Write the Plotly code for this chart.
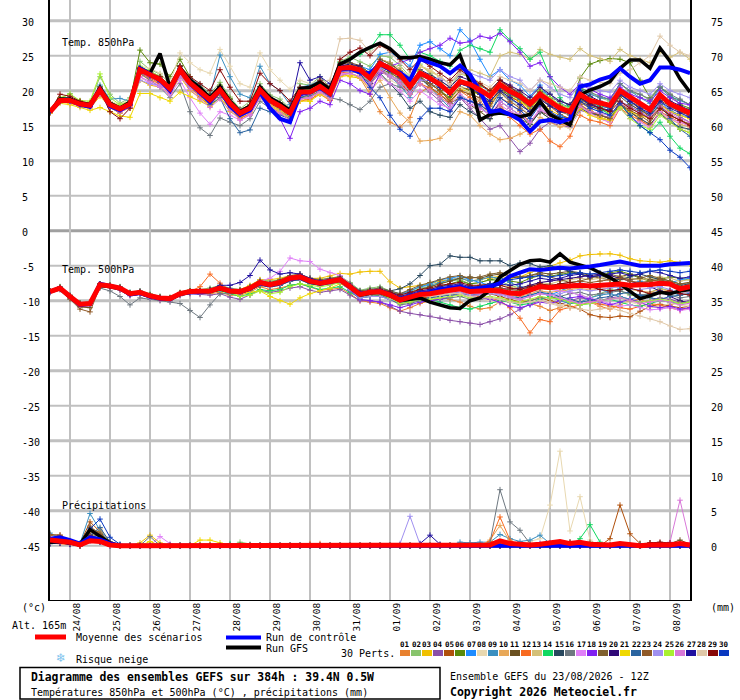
import plotly.graph_objects as go

# ─── axes / labels ────────────────────────────────────────────────────────────
HOURS = list(range(0, 385, 6))          # 23/08 12Z -> +384h, every 6h
DAY_TICKS = list(range(12, 373, 24))    # 00Z of each day
DAY_LABELS = ["24/08", "25/08", "26/08", "27/08", "28/08", "29/08", "30/08", "31/08",
              "01/09", "02/09", "03/09", "04/09", "05/09", "06/09", "07/09", "08/09"]
Y_TICKS = list(range(-45, 31, 5))
PRECIP_OFFSET = 45                      # right axis = left axis + 45

COLORS = ["#E8812F", "#88C46C", "#F0C000", "#8B50A8", "#B0500C", "#5A8A0A", "#1E8CFF",
          "#E8D8B0", "#3A8FC0", "#E8A858", "#6A5020", "#F86A20", "#D4C078", "#10D860",
          "#28485E", "#6E7880", "#E080F8", "#8020F0", "#80602E", "#300878", "#F0D800",
          "#2A64A0", "#905A28", "#A090F0", "#A8F030", "#D878D8", "#2010A0", "#E0C8A8",
          "#880808", "#0838C0"]

# ─── 850 hPa ──────────────────────────────────────────────────────────────────
MEAN_850 = [17.0, 18.6, 18.6, 18.1, 17.9, 20.1, 18.0, 17.4,
            18.1, 23.0, 22.3, 21.6, 20.3, 23.0, 21.1, 19.9,
            18.7, 20.1, 18.2, 16.8, 17.5, 20.1, 18.6, 17.8,
            16.8, 19.8, 19.8, 20.6, 19.6, 23.2, 23.3, 23.0,
            21.8, 23.9, 23.2, 22.3, 20.6, 22.5, 21.8, 20.9,
            19.7, 21.3, 20.9, 20.1, 19.2, 20.9, 19.9, 19.2,
            18.1, 19.5, 18.4, 17.5, 17.0, 19.5, 18.6, 18.2,
            17.9, 20.0, 19.0, 18.2, 17.3, 19.4, 18.1, 17.5,
            16.8]
CTRL_850 = [17.0, 18.5, 18.6, 18.0, 17.7, 20.2, 17.8, 17.2,
            18.0, 23.2, 22.4, 21.5, 20.0, 23.0, 21.0, 19.6,
            18.4, 20.0, 17.8, 16.5, 17.2, 19.8, 17.5, 16.0,
            15.5, 19.5, 19.8, 20.4, 19.5, 23.0, 23.2, 22.6,
            22.5, 23.8, 23.0, 22.6, 21.5, 24.5, 24.0, 23.5,
            22.5, 23.6, 22.3, 19.9, 17.0, 17.2, 16.6, 15.8,
            14.2, 15.6, 15.8, 15.5, 16.0, 20.6, 20.9, 21.6,
            22.0, 23.2, 22.0, 21.0, 21.5, 23.3, 23.3, 23.0,
            22.5]
GFS_850 = [17.0, 18.8, 18.8, 18.2, 18.0, 20.4, 18.2, 17.5,
           18.4, 23.2, 22.5, 25.3, 20.5, 23.2, 21.5, 20.4,
           19.0, 20.6, 18.5, 17.0, 17.8, 20.5, 19.0, 18.2,
           17.2, 20.3, 20.5, 21.2, 20.2, 23.8, 24.5, 25.5,
           26.2, 26.8, 26.0, 24.7, 24.7, 24.9, 24.5, 24.0,
           23.7, 25.1, 21.3, 15.8, 16.6, 16.8, 16.6, 16.3,
           16.6, 18.5, 16.6, 15.8, 15.1, 19.4, 20.1, 20.6,
           21.3, 23.2, 24.4, 24.4, 23.2, 26.1, 24.2, 21.7,
           19.8]

T850_01 = [17.1, 18.9, 18.4, 18.0, 17.6, 19.6, 17.8, 17.1, 18.4, 22.4, 21.5, 21.0, 19.8, 22.1, 20.6, 19.0,
           18.0, 19.6, 17.6, 16.0, 17.2, 19.3, 18.2, 17.3, 15.8, 18.9, 19.5, 19.8, 19.0, 22.0, 22.6, 21.8,
           19.5, 17.0, 15.5, 14.8, 16.2, 19.8, 20.5, 19.0, 18.2, 20.0, 19.5, 18.5, 17.0, 19.0, 18.2, 17.0,
           15.5, 17.0, 16.0, 15.2, 15.0, 18.3, 17.5, 16.0, 15.5, 18.2, 17.0, 15.8, 14.8, 17.0, 15.6, 14.5, 14.0]
T850_02 = [17.2, 18.8, 19.6, 18.4, 18.3, 22.0, 19.5, 18.2, 19.0, 24.2, 23.0, 22.4, 21.0, 23.5, 21.8, 20.8,
           19.6, 21.2, 19.1, 17.4, 18.5, 21.0, 19.4, 18.8, 17.5, 21.0, 20.8, 22.0, 20.5, 24.2, 24.8, 24.1,
           23.5, 25.0, 24.8, 23.6, 22.0, 23.8, 22.5, 21.4, 20.5, 22.4, 22.0, 20.9, 20.0, 21.5, 20.2, 19.8,
           18.5, 20.1, 19.0, 17.6, 17.9, 20.5, 19.8, 19.0, 18.5, 21.0, 19.8, 19.5, 18.6, 20.6, 19.0, 18.7, 18.0]
T850_03 = [16.9, 18.4, 18.2, 17.8, 17.5, 19.2, 17.7, 17.0, 17.5, 21.5, 20.8, 20.5, 19.5, 22.0, 20.0, 19.0,
           17.8, 19.0, 17.0, 16.2, 16.5, 19.0, 17.9, 17.2, 16.5, 19.0, 18.5, 20.0, 18.8, 22.5, 22.0, 21.8,
           20.5, 23.5, 23.0, 22.0, 20.0, 22.8, 22.2, 21.0, 19.2, 20.2, 19.8, 19.5, 18.0, 20.0, 19.0, 18.5,
           17.4, 18.6, 17.2, 16.5, 16.0, 17.8, 16.8, 16.2, 15.8, 18.5, 17.5, 16.8, 16.2, 18.0, 17.2, 16.5, 16.0]
T850_04 = [17.0, 18.7, 18.9, 18.3, 18.0, 20.4, 18.2, 17.6, 18.3, 23.4, 22.6, 21.8, 20.5, 23.1, 21.4, 20.3,
           19.2, 20.5, 18.7, 17.3, 17.9, 20.5, 19.0, 18.1, 17.0, 20.2, 20.5, 21.0, 20.2, 23.8, 23.6, 23.2,
           22.0, 24.0, 22.5, 21.0, 19.5, 21.0, 19.8, 18.5, 17.2, 19.0, 17.5, 16.0, 14.5, 15.0, 13.2, 11.3,
           12.5, 14.5, 15.5, 15.0, 14.8, 17.2, 16.8, 16.5, 16.2, 18.5, 17.8, 17.0, 16.0, 18.2, 17.0, 16.2, 15.5]
T850_05 = [16.8, 18.4, 18.5, 17.9, 17.8, 19.8, 17.6, 16.8, 18.0, 22.8, 22.0, 21.2, 20.0, 22.5, 20.8, 19.5,
           18.5, 19.9, 17.9, 16.5, 17.0, 19.5, 18.1, 17.5, 16.2, 19.5, 19.4, 20.4, 19.8, 23.0, 23.5, 22.5,
           21.0, 22.8, 22.0, 21.0, 19.8, 21.5, 21.0, 20.0, 18.8, 20.5, 20.2, 19.5, 18.2, 20.4, 19.2, 18.4,
           17.0, 18.8, 17.8, 16.6, 16.0, 18.8, 18.0, 17.6, 17.0, 19.5, 18.5, 17.4, 16.2, 18.0, 16.5, 15.8, 15.2]
T850_06 = [17.1, 18.9, 18.8, 18.5, 18.2, 20.6, 18.4, 17.9, 18.4, 25.8, 24.0, 23.8, 22.0, 24.5, 22.0, 20.5,
           19.0, 20.8, 18.9, 17.2, 17.8, 20.4, 18.8, 18.0, 17.2, 20.0, 20.0, 20.8, 20.0, 23.4, 23.8, 23.2,
           21.5, 23.2, 22.5, 21.8, 20.2, 22.0, 21.0, 20.0, 19.0, 20.5, 20.0, 19.5, 18.5, 20.0, 19.4, 18.8,
           17.5, 19.8, 18.2, 17.5, 17.0, 21.8, 23.8, 24.3, 24.6, 24.5, 24.0, 21.5, 19.0, 20.5, 19.5, 18.0, 17.5]
T850_07 = [16.9, 18.5, 18.5, 18.0, 17.7, 20.0, 17.9, 17.3, 18.0, 22.8, 22.0, 21.4, 20.1, 22.8, 20.9, 19.6,
           18.5, 20.0, 18.0, 16.5, 17.2, 19.9, 18.4, 17.6, 16.6, 19.4, 19.6, 20.4, 19.4, 23.0, 23.4, 23.5,
           23.0, 25.2, 25.5, 24.6, 23.5, 26.5, 27.0, 26.0, 25.0, 28.7, 27.2, 24.5, 22.0, 23.0, 21.5, 20.8,
           19.2, 20.8, 18.8, 16.5, 15.8, 19.2, 17.5, 17.8, 17.5, 19.5, 18.2, 17.0, 16.0, 18.5, 17.2, 16.5, 16.2]
T850_08 = [17.0, 18.7, 18.8, 18.3, 18.2, 20.5, 18.5, 18.0, 18.8, 23.5, 23.2, 22.5, 21.0, 25.4, 24.0, 23.0,
           22.5, 25.9, 23.5, 21.0, 20.5, 25.4, 23.0, 21.5, 20.2, 21.5, 21.0, 21.5, 20.5, 23.0, 22.5, 22.0,
           20.5, 22.0, 21.5, 20.8, 19.5, 21.0, 20.2, 19.2, 18.5, 20.5, 19.8, 18.8, 17.5, 19.5, 18.5, 17.8,
           16.5, 17.8, 16.2, 15.0, 14.6, 17.5, 16.5, 16.0, 15.5, 17.5, 16.5, 15.6, 14.8, 16.8, 15.5, 14.8, 14.2]
T850_09 = [17.0, 18.6, 18.5, 18.0, 17.8, 20.8, 18.8, 18.9, 18.5, 23.2, 22.5, 21.8, 20.6, 23.4, 21.8, 20.8,
           19.2, 25.1, 22.0, 19.5, 19.0, 23.5, 21.0, 20.0, 18.0, 20.5, 20.8, 21.5, 20.2, 23.5, 23.0, 22.5,
           21.0, 23.0, 22.0, 20.8, 19.0, 21.8, 20.5, 19.0, 17.5, 19.2, 18.5, 17.8, 16.5, 19.8, 18.8, 18.0,
           17.0, 20.0, 19.5, 18.2, 17.6, 20.2, 19.5, 19.0, 18.8, 21.0, 20.0, 19.0, 18.2, 20.5, 19.2, 18.6, 18.0]
T850_10 = [17.0, 18.5, 18.4, 17.9, 17.7, 19.8, 17.8, 17.2, 17.9, 22.6, 21.9, 21.2, 19.9, 22.6, 20.6, 19.4,
           18.2, 19.6, 17.8, 16.4, 17.0, 19.5, 18.0, 17.2, 16.2, 19.2, 19.0, 20.0, 19.2, 22.6, 22.5, 22.0,
           20.0, 21.5, 19.0, 16.8, 15.5, 12.8, 12.9, 13.2, 14.5, 17.0, 16.5, 15.0, 13.8, 13.0, 13.2, 13.8,
           14.5, 16.2, 15.5, 14.8, 15.2, 18.0, 17.2, 16.5, 16.0, 18.0, 17.0, 16.2, 15.0, 17.2, 16.0, 15.2, 14.8]
T850_11 = [17.1, 18.8, 18.9, 18.4, 18.1, 20.5, 18.3, 17.7, 18.5, 23.3, 22.8, 22.0, 20.8, 23.6, 21.7, 20.5,
           19.3, 20.6, 18.7, 17.3, 18.0, 20.6, 19.1, 18.3, 17.3, 20.4, 20.4, 21.2, 20.1, 23.8, 24.0, 23.6,
           22.5, 24.5, 24.0, 22.8, 21.0, 22.0, 20.5, 19.5, 18.2, 19.0, 18.0, 17.0, 16.0, 17.5, 16.8, 16.0,
           15.2, 17.0, 16.5, 16.0, 15.8, 18.5, 17.8, 17.2, 17.0, 19.2, 18.0, 17.2, 16.5, 18.6, 17.8, 17.0, 16.5]
T850_12 = [16.9, 18.4, 18.3, 17.8, 17.6, 19.7, 17.6, 17.0, 17.7, 22.5, 21.8, 21.0, 19.8, 22.4, 20.5, 19.2,
           18.0, 19.5, 17.5, 16.0, 16.8, 19.2, 17.5, 16.8, 15.8, 18.5, 18.8, 19.5, 18.6, 22.5, 22.8, 22.4,
           21.2, 23.0, 22.2, 21.5, 19.5, 21.0, 20.4, 19.5, 18.5, 20.0, 19.0, 18.0, 16.8, 18.0, 16.2, 15.0,
           13.8, 14.5, 12.8, 12.0, 13.5, 16.5, 15.8, 15.5, 15.0, 17.5, 16.5, 15.8, 15.0, 17.0, 16.2, 15.5, 15.0]
T850_13 = [17.0, 18.6, 18.7, 18.2, 18.0, 20.2, 18.2, 17.6, 18.3, 23.2, 22.5, 21.8, 20.5, 23.2, 21.4, 20.2,
           19.0, 20.4, 18.5, 17.0, 17.7, 20.3, 18.8, 18.0, 17.0, 20.0, 20.0, 20.8, 19.8, 23.4, 23.5, 23.4,
           22.4, 24.5, 24.0, 23.2, 21.8, 23.5, 22.8, 22.0, 21.0, 22.8, 23.0, 22.5, 22.0, 25.0, 25.5, 25.2,
           24.5, 25.9, 25.2, 24.8, 24.5, 26.0, 25.0, 24.6, 24.2, 25.9, 25.0, 24.5, 24.0, 25.5, 24.8, 25.5, 24.5]
T850_14 = [17.1, 18.8, 18.6, 18.2, 18.0, 20.3, 18.1, 17.5, 18.2, 23.0, 22.4, 21.6, 20.4, 23.2, 21.2, 20.0,
           18.8, 20.3, 18.3, 16.9, 17.6, 20.2, 18.7, 17.9, 16.9, 20.0, 20.2, 21.4, 20.4, 24.0, 24.5, 25.2,
           26.0, 28.0, 28.0, 26.5, 24.5, 25.5, 25.0, 24.2, 23.5, 25.8, 26.5, 26.0, 25.5, 28.7, 27.2, 26.0,
           24.5, 25.5, 22.0, 19.0, 17.5, 20.5, 19.0, 17.5, 16.5, 18.0, 16.5, 15.0, 14.0, 15.5, 13.5, 11.8, 11.0]
T850_15 = [17.0, 18.6, 18.6, 18.1, 17.9, 20.0, 18.0, 17.4, 18.1, 22.8, 22.2, 21.4, 20.2, 22.9, 21.0, 19.8,
           18.6, 20.0, 18.1, 16.7, 17.4, 20.0, 18.5, 17.7, 16.7, 19.7, 19.6, 20.3, 19.3, 22.8, 23.0, 22.6,
           21.0, 22.5, 21.0, 19.5, 17.5, 18.5, 17.0, 16.5, 16.2, 18.0, 17.0, 16.2, 16.0, 18.5, 17.5, 16.5,
           15.2, 17.0, 16.0, 15.5, 15.2, 17.5, 16.8, 16.5, 16.0, 18.0, 17.0, 16.0, 15.2, 16.8, 15.5, 14.8, 14.5]
T850_16 = [16.9, 18.5, 18.4, 18.0, 17.8, 19.9, 17.8, 17.2, 18.0, 22.5, 21.5, 20.5, 19.0, 21.0, 17.0, 14.7,
           13.6, 16.1, 15.5, 15.0, 16.0, 18.5, 17.5, 17.0, 16.2, 19.0, 19.2, 20.0, 19.0, 18.7, 18.0, 17.3,
           18.5, 20.5, 21.0, 20.5, 19.8, 21.5, 21.0, 20.4, 19.5, 21.0, 20.5, 19.8, 19.2, 21.5, 20.5, 19.8,
           18.5, 20.0, 19.0, 18.5, 18.0, 20.4, 19.8, 19.2, 18.8, 21.0, 20.0, 19.5, 18.8, 20.5, 19.5, 18.8, 18.0]
T850_17 = [17.0, 18.5, 18.4, 17.9, 17.8, 19.6, 17.7, 17.0, 17.6, 22.0, 21.0, 20.5, 19.4, 21.5, 19.0, 16.8,
           15.2, 17.0, 16.5, 15.8, 16.5, 19.0, 17.8, 17.0, 16.0, 18.8, 19.0, 19.8, 19.0, 22.5, 22.4, 22.0,
           20.5, 22.0, 21.0, 20.0, 18.5, 20.0, 19.0, 18.0, 17.5, 19.0, 18.0, 17.5, 16.5, 18.5, 17.5, 16.5,
           15.5, 17.5, 16.5, 15.8, 15.5, 17.8, 16.8, 16.0, 15.5, 17.5, 16.0, 15.5, 14.8, 17.0, 16.0, 15.5, 15.0]
T850_18 = [17.0, 18.4, 18.5, 18.0, 17.7, 19.8, 17.8, 17.2, 17.9, 22.6, 22.0, 21.2, 20.0, 22.6, 20.8, 19.6,
           18.4, 19.8, 18.0, 16.6, 17.3, 19.5, 17.5, 16.0, 13.2, 17.0, 17.5, 18.5, 18.0, 21.5, 21.0, 20.0,
           19.5, 22.5, 23.5, 24.0, 24.5, 25.5, 26.0, 26.5, 27.5, 26.8, 27.0, 27.8, 27.5, 28.2, 27.0, 25.5,
           23.5, 24.0, 22.0, 20.5, 19.5, 21.0, 20.2, 19.5, 19.0, 20.5, 19.5, 19.0, 18.5, 20.0, 19.0, 18.2, 18.0]
T850_19 = [17.1, 18.7, 18.7, 18.2, 18.0, 20.2, 18.1, 17.5, 18.2, 23.2, 22.5, 21.8, 20.4, 23.2, 21.3, 20.1,
           18.9, 20.3, 18.4, 17.0, 17.6, 20.2, 18.7, 17.9, 16.9, 20.0, 20.0, 20.8, 19.8, 23.4, 23.6, 23.5,
           22.5, 24.5, 23.8, 22.8, 21.0, 22.8, 22.0, 21.2, 20.0, 21.5, 21.0, 20.2, 19.0, 20.5, 19.5, 18.8,
           17.5, 19.0, 18.0, 17.0, 16.5, 18.8, 18.0, 17.5, 17.2, 19.5, 18.5, 17.8, 17.0, 19.0, 17.8, 17.0, 16.5]
T850_20 = [17.0, 18.6, 18.7, 18.2, 17.9, 20.3, 18.2, 17.6, 18.3, 23.2, 22.5, 21.7, 20.5, 23.4, 21.5, 20.3,
           19.2, 20.6, 18.6, 17.2, 17.8, 20.5, 19.0, 18.2, 17.2, 20.2, 20.4, 21.0, 20.0, 23.5, 23.8, 23.5,
           22.0, 24.2, 23.5, 22.5, 21.0, 23.0, 22.2, 21.5, 20.5, 22.0, 21.5, 20.8, 20.0, 21.5, 20.8, 20.0,
           19.0, 20.5, 19.5, 18.5, 18.0, 20.0, 19.2, 18.5, 18.0, 19.8, 19.0, 18.2, 17.5, 19.2, 18.5, 17.8, 17.2]
T850_21 = [16.8, 18.2, 18.0, 17.6, 17.2, 17.6, 17.0, 16.4, 16.2, 19.6, 19.6, 19.0, 18.5, 19.8, 19.2, 18.5,
           17.8, 19.0, 17.5, 16.5, 17.0, 19.2, 17.8, 17.0, 16.0, 18.5, 18.5, 19.5, 18.8, 22.0, 22.2, 22.0,
           21.5, 23.5, 23.0, 22.5, 21.5, 23.5, 23.0, 22.0, 21.0, 22.5, 22.0, 21.0, 20.0, 21.0, 19.5, 18.5,
           17.5, 18.8, 17.0, 16.0, 15.5, 17.5, 16.5, 16.0, 15.8, 17.8, 17.0, 16.5, 16.0, 18.0, 17.0, 16.5, 16.0]
T850_22 = [17.0, 18.5, 18.5, 18.0, 17.8, 20.0, 17.9, 17.3, 18.0, 22.8, 22.2, 21.3, 20.0, 22.8, 20.8, 19.5,
           18.0, 19.0, 16.0, 14.0, 14.4, 17.5, 17.0, 16.5, 16.0, 19.0, 19.5, 20.2, 19.2, 22.8, 22.8, 22.5,
           21.5, 23.5, 22.8, 22.0, 20.5, 22.2, 21.5, 20.5, 19.5, 21.0, 20.6, 20.0, 19.0, 20.5, 19.5, 18.8,
           17.8, 19.2, 18.2, 17.2, 16.8, 19.0, 18.2, 17.8, 17.5, 19.6, 18.5, 17.5, 16.5, 18.0, 16.0, 14.5, 13.5]
T850_23 = [17.0, 18.7, 18.8, 18.3, 18.1, 20.3, 18.2, 17.6, 18.2, 23.0, 22.3, 21.6, 20.3, 23.0, 21.2, 20.0,
           18.8, 20.2, 18.3, 16.9, 17.6, 20.2, 18.7, 17.9, 16.9, 19.9, 19.9, 20.7, 19.7, 23.2, 23.3, 23.1,
           21.8, 23.5, 22.8, 21.5, 20.0, 22.0, 21.0, 20.0, 18.5, 20.0, 19.5, 19.0, 17.8, 19.8, 18.5, 17.5,
           16.5, 18.0, 16.8, 16.0, 15.5, 18.0, 17.0, 16.5, 16.0, 18.2, 17.2, 16.5, 15.5, 17.5, 16.5, 15.8, 15.2]
T850_24 = [17.0, 18.6, 18.6, 18.1, 17.9, 20.0, 18.0, 17.4, 18.1, 21.5, 21.0, 20.8, 20.0, 22.0, 20.5, 19.5,
           18.5, 19.8, 18.0, 16.8, 17.4, 19.8, 18.4, 17.6, 16.6, 19.5, 19.5, 20.2, 19.3, 22.8, 22.8, 22.5,
           21.2, 23.2, 22.2, 21.5, 19.8, 21.5, 21.5, 21.8, 21.0, 22.5, 22.5, 22.0, 21.5, 23.0, 22.0, 21.5,
           20.0, 21.5, 20.5, 19.5, 19.0, 21.0, 20.5, 20.0, 19.8, 21.5, 20.5, 20.0, 19.5, 21.0, 20.0, 19.5, 19.0]
T850_25 = [17.2, 19.0, 19.5, 18.6, 18.5, 22.4, 19.0, 18.0, 18.5, 23.5, 22.8, 22.0, 20.5, 23.2, 21.0, 19.8,
           18.5, 20.0, 18.0, 16.6, 17.5, 20.0, 18.5, 17.5, 16.5, 19.6, 19.8, 20.5, 19.5, 23.2, 23.5, 23.0,
           22.0, 24.0, 23.5, 22.5, 21.0, 22.8, 22.0, 21.0, 20.0, 21.5, 21.0, 20.5, 19.5, 21.0, 20.0, 19.5,
           18.5, 20.0, 19.0, 18.0, 17.5, 19.5, 18.8, 18.0, 16.5, 17.5, 16.0, 15.0, 14.5, 16.5, 15.5, 14.5, 14.0]
T850_26 = [16.9, 18.4, 18.3, 17.8, 17.6, 19.5, 17.6, 17.0, 17.6, 22.0, 21.3, 20.8, 19.6, 22.2, 20.2, 18.8,
           17.6, 18.8, 17.2, 15.8, 16.6, 19.2, 17.6, 16.8, 15.8, 18.8, 19.0, 19.8, 18.8, 22.2, 22.5, 22.0,
           20.8, 22.8, 22.0, 21.0, 19.5, 21.0, 20.0, 19.0, 18.0, 19.5, 18.5, 17.5, 16.5, 18.0, 17.0, 16.5,
           15.5, 17.2, 16.5, 15.8, 15.5, 17.8, 17.0, 16.8, 16.5, 18.2, 17.5, 16.8, 16.2, 17.8, 16.8, 16.0, 15.5]
T850_27 = [17.0, 18.7, 18.7, 18.2, 18.0, 20.3, 18.2, 17.5, 18.2, 23.2, 22.5, 21.8, 20.5, 23.2, 21.4, 20.2,
           19.0, 20.4, 18.5, 17.0, 17.7, 20.3, 18.8, 18.0, 17.5, 24.0, 21.5, 22.0, 21.0, 23.5, 23.2, 23.0,
           22.0, 24.0, 23.0, 22.0, 20.5, 22.5, 21.5, 20.5, 19.5, 21.0, 20.5, 19.5, 18.5, 20.0, 19.0, 18.0,
           17.0, 18.8, 17.8, 17.0, 16.8, 19.0, 18.0, 17.5, 17.2, 19.5, 18.5, 17.5, 16.8, 18.5, 17.5, 16.8, 16.2]
T850_28 = [17.0, 18.6, 18.7, 18.2, 18.0, 20.2, 18.1, 17.5, 18.2, 23.0, 22.5, 21.8, 20.5, 23.3, 21.4, 20.3,
           19.0, 20.4, 18.6, 17.2, 17.8, 20.4, 18.9, 18.2, 17.2, 20.2, 20.4, 21.2, 21.5, 27.4, 27.5, 27.2,
           25.5, 26.5, 25.5, 24.0, 22.5, 23.5, 23.0, 22.0, 21.0, 22.5, 22.0, 21.2, 20.5, 22.0, 21.5, 21.0,
           20.0, 21.5, 21.0, 20.5, 20.0, 22.0, 21.5, 21.2, 21.0, 22.5, 23.0, 24.0, 25.0, 27.8, 26.5, 25.5, 25.0]
T850_29 = [17.0, 19.5, 19.2, 18.5, 18.2, 20.0, 17.0, 16.0, 17.5, 23.0, 22.5, 22.0, 20.5, 23.5, 22.0, 21.0,
           20.0, 23.0, 20.5, 18.5, 18.5, 22.5, 21.0, 20.0, 18.5, 20.5, 20.5, 21.5, 20.5, 24.5, 25.5, 26.1,
           25.0, 26.5, 25.8, 24.5, 23.0, 24.5, 23.5, 22.5, 21.5, 23.0, 22.0, 21.0, 20.0, 21.5, 20.5, 19.5,
           18.5, 19.8, 18.5, 17.8, 17.0, 19.0, 18.2, 17.5, 17.0, 18.5, 17.5, 16.8, 16.0, 17.5, 16.5, 15.8, 15.0]
T850_30 = [17.0, 18.6, 18.5, 18.0, 17.8, 20.0, 17.9, 17.3, 18.0, 22.9, 22.2, 21.5, 20.2, 22.9, 21.0, 19.8,
           18.6, 20.0, 18.0, 16.6, 17.3, 20.0, 18.5, 17.6, 16.6, 19.6, 19.6, 20.4, 19.4, 23.0, 23.0, 22.5,
           20.5, 19.0, 16.5, 14.5, 13.5, 16.0, 17.5, 17.5, 17.0, 19.0, 18.5, 18.0, 17.0, 19.0, 18.0, 17.2,
           16.0, 18.0, 17.0, 16.2, 16.0, 18.5, 17.5, 17.0, 16.5, 18.2, 16.5, 15.0, 14.0, 13.0, 11.5, 10.5, 9.0]

# ─── 500 hPa ──────────────────────────────────────────────────────────────────
MEAN_500 = [-8.7, -8.2, -9.4, -10.5, -10.4, -7.7, -7.9, -8.2,
            -9.0, -8.8, -9.3, -9.6, -9.7, -9.0, -8.7, -8.7,
            -8.6, -8.2, -8.6, -8.7, -8.2, -7.4, -7.7, -7.4,
            -6.8, -6.6, -7.2, -7.5, -7.3, -7.0, -8.0, -9.1,
            -8.8, -8.7, -9.2, -9.9, -9.5, -9.1, -9.0, -8.7,
            -8.5, -8.3, -8.7, -8.6, -8.5, -8.6, -8.9, -9.0,
            -8.5, -8.0, -8.1, -8.0, -7.9, -7.8, -7.9, -7.8,
            -7.7, -7.6, -7.8, -7.8, -7.7, -7.5, -7.6, -8.3,
            -8.0]
CTRL_500 = [-8.7, -8.2, -9.4, -10.6, -10.5, -7.6, -7.9, -8.2,
            -9.1, -8.9, -9.4, -9.7, -9.8, -9.0, -8.8, -8.8,
            -8.6, -8.2, -8.5, -8.8, -8.2, -7.5, -7.8, -7.5,
            -6.9, -6.7, -7.2, -7.4, -7.2, -7.0, -8.0, -9.0,
            -8.8, -8.6, -9.2, -9.8, -9.4, -9.0, -8.8, -8.4,
            -8.2, -8.0, -8.4, -8.2, -8.0, -7.5, -6.5, -6.0,
            -5.5, -5.6, -5.5, -5.3, -5.4, -5.3, -5.1, -4.9,
            -4.6, -4.4, -4.7, -5.0, -5.0, -5.0, -4.8, -4.7,
            -4.6]
GFS_500 = [-8.7, -8.3, -9.5, -10.6, -10.4, -7.8, -8.0, -8.3,
           -9.1, -8.9, -9.4, -9.7, -9.8, -9.1, -8.8, -8.8,
           -8.7, -8.3, -8.7, -8.8, -8.3, -7.5, -7.8, -7.5,
           -6.9, -6.7, -7.3, -7.6, -7.4, -7.1, -8.1, -9.2,
           -8.9, -8.8, -9.3, -10.0, -9.8, -9.6, -10.2, -10.6,
           -11.0, -11.1, -10.0, -9.6, -8.5, -6.6, -5.7, -4.8,
           -4.3, -4.2, -4.5, -3.3, -4.5, -4.9, -5.3, -6.0,
           -6.7, -7.6, -8.6, -9.7, -9.3, -8.8, -9.0, -8.6,
           -8.4]

T500_01 = [-8.6, -8.0, -9.2, -10.3, -10.2, -7.8, -8.0, -8.4, -9.2, -9.0, -9.5, -9.8, -9.8, -9.2, -8.9, -9.0,
           -9.0, -8.8, -9.2, -9.2, -8.8, -8.0, -8.4, -8.2, -7.8, -7.6, -8.0, -8.5, -8.4, -8.2, -9.0, -10.0,
           -10.2, -10.4, -11.0, -11.5, -11.0, -10.4, -10.0, -9.5, -9.8, -10.2, -10.8, -11.2, -11.0, -10.2, -9.6, -9.8,
           -10.4, -10.8, -11.4, -11.0, -10.4, -10.0, -10.2, -10.8, -11.2, -10.6, -10.0, -9.8, -10.4, -11.0, -10.6, -10.2, -10.4]
T500_02 = [-8.8, -8.3, -9.5, -10.6, -10.5, -7.6, -7.8, -8.0, -8.8, -8.6, -9.0, -9.4, -9.5, -8.8, -8.4, -8.4,
           -8.2, -7.8, -8.2, -8.4, -7.9, -7.0, -7.2, -7.0, -6.5, -6.2, -6.8, -7.0, -6.8, -6.5, -7.4, -8.5,
           -8.2, -8.0, -8.6, -9.2, -8.8, -8.2, -8.0, -7.5, -7.2, -7.0, -7.6, -7.4, -7.0, -7.2, -7.8, -8.2,
           -8.0, -7.6, -7.8, -8.2, -8.8, -9.2, -9.6, -9.0, -8.4, -8.6, -9.2, -9.4, -8.8, -8.2, -8.6, -9.2, -8.8]
T500_03 = [-8.7, -8.2, -9.3, -10.4, -10.3, -7.8, -8.0, -8.3, -9.0, -8.8, -9.2, -9.5, -9.6, -8.9, -8.6, -8.6,
           -8.5, -8.0, -8.4, -8.4, -7.8, -7.0, -7.0, -6.8, -6.4, -6.5, -6.8, -6.8, -6.5, -6.1, -6.2, -5.9,
           -5.8, -5.8, -7.3, -8.2, -8.0, -7.8, -7.6, -7.2, -7.0, -6.8, -7.2, -7.0, -6.8, -6.5, -6.8, -6.6,
           -6.0, -5.5, -5.0, -4.6, -4.2, -3.6, -3.4, -3.3, -3.3, -3.5, -4.0, -4.3, -4.4, -4.5, -4.3, -4.6, -4.8]
T500_04 = [-8.7, -8.3, -9.5, -10.6, -10.5, -7.9, -8.1, -8.5, -9.3, -9.1, -9.6, -9.9, -10.0, -9.3, -9.0, -9.1,
           -9.2, -9.0, -9.5, -9.8, -9.2, -8.5, -8.8, -8.6, -8.2, -8.0, -8.5, -8.8, -8.6, -8.4, -9.2, -10.0,
           -10.0, -10.2, -10.8, -11.5, -11.8, -12.0, -12.2, -12.5, -12.8, -13.0, -13.2, -13.4, -13.0, -12.6, -12.0, -11.2,
           -10.5, -10.0, -10.2, -10.6, -10.0, -9.6, -9.8, -10.0, -9.6, -9.4, -9.8, -10.2, -10.0, -9.6, -9.8, -10.2, -10.0]
T500_05 = [-8.8, -8.3, -9.6, -10.8, -10.7, -7.8, -8.0, -8.3, -9.1, -8.9, -9.4, -9.7, -9.8, -9.1, -8.8, -8.8,
           -8.8, -8.5, -8.8, -9.0, -8.5, -7.8, -8.0, -7.8, -7.2, -7.0, -7.5, -7.8, -7.6, -7.4, -8.2, -9.4,
           -9.2, -9.0, -9.5, -10.2, -10.0, -9.6, -9.5, -9.2, -9.0, -8.8, -9.2, -9.2, -9.0, -9.4, -9.8, -10.2,
           -10.0, -9.6, -10.0, -10.4, -10.8, -11.2, -12.0, -12.3, -12.4, -12.2, -12.3, -11.5, -10.8, -10.5, -10.8, -11.0, -10.8]
T500_06 = [-8.6, -8.1, -9.3, -10.4, -10.3, -7.6, -7.8, -8.1, -8.9, -8.7, -9.2, -9.5, -9.6, -8.9, -8.6, -8.5,
           -8.4, -8.0, -8.4, -8.5, -8.0, -7.2, -7.5, -7.2, -6.6, -6.4, -7.0, -7.3, -7.1, -6.8, -7.8, -8.9,
           -8.6, -8.4, -8.8, -9.4, -9.0, -8.6, -8.4, -8.0, -7.6, -7.2, -7.6, -7.4, -7.0, -6.8, -7.2, -7.4,
           -6.8, -6.4, -6.5, -6.2, -6.0, -6.2, -6.6, -6.4, -6.0, -5.8, -6.2, -6.8, -7.2, -7.0, -6.6, -6.8, -7.0]
T500_07 = [-8.7, -8.2, -9.4, -10.5, -10.4, -7.7, -7.9, -8.2, -9.0, -8.8, -9.3, -9.6, -9.7, -9.0, -8.7, -8.7,
           -8.6, -8.1, -8.5, -8.6, -8.1, -7.3, -7.6, -7.3, -6.7, -6.5, -7.1, -7.4, -7.2, -6.9, -7.9, -9.0,
           -8.6, -8.4, -8.8, -9.2, -8.6, -8.0, -7.6, -7.0, -6.8, -6.5, -7.0, -7.4, -7.8, -8.4, -9.0, -9.6,
           -9.2, -8.8, -9.2, -8.6, -8.0, -7.5, -7.8, -8.4, -8.8, -8.2, -7.6, -7.2, -7.6, -8.0, -7.5, -7.0, -6.8]
T500_08 = [-8.7, -8.3, -9.4, -10.5, -10.3, -7.6, -7.8, -8.1, -8.9, -8.6, -9.1, -9.4, -9.5, -8.8, -8.5, -8.5,
           -8.4, -8.0, -8.5, -8.6, -8.0, -7.2, -7.5, -7.2, -6.6, -6.4, -7.0, -7.4, -7.2, -7.0, -8.2, -9.4,
           -9.0, -9.2, -9.8, -10.4, -10.2, -9.8, -9.6, -9.4, -9.2, -9.0, -9.6, -9.8, -10.0, -10.4, -10.8, -10.6,
           -10.2, -9.8, -10.2, -10.6, -10.4, -10.0, -10.2, -10.6, -10.8, -10.4, -10.2, -10.6, -11.0, -10.8, -10.4, -10.6, -10.8]
T500_09 = [-8.6, -8.0, -9.2, -10.3, -10.2, -7.6, -7.8, -8.0, -8.8, -8.6, -9.1, -9.4, -9.6, -8.9, -8.6, -8.6,
           -8.5, -8.1, -8.4, -8.5, -8.0, -7.2, -7.5, -7.2, -6.6, -6.4, -7.0, -7.2, -7.0, -6.6, -7.6, -8.6,
           -8.4, -8.2, -8.6, -9.0, -8.6, -8.0, -7.8, -7.4, -7.0, -6.8, -7.2, -7.0, -6.6, -6.8, -7.4, -8.0,
           -8.4, -8.8, -9.4, -10.0, -10.4, -10.2, -9.6, -9.2, -9.0, -9.4, -9.8, -9.4, -9.0, -8.6, -8.8, -9.2, -9.0]
T500_10 = [-8.8, -8.3, -9.5, -10.6, -10.5, -7.8, -8.0, -8.3, -9.1, -8.9, -9.4, -9.7, -9.8, -9.1, -8.8, -8.8,
           -8.7, -8.3, -8.7, -8.8, -8.3, -7.5, -7.8, -7.5, -6.9, -6.7, -7.3, -7.6, -7.4, -7.1, -8.1, -9.2,
           -9.0, -9.2, -9.6, -10.2, -9.8, -9.4, -9.2, -8.8, -8.6, -8.4, -8.8, -8.8, -8.6, -8.8, -9.2, -9.4,
           -9.0, -8.6, -8.8, -8.6, -8.4, -8.2, -8.5, -8.4, -8.2, -8.0, -8.4, -8.6, -8.8, -8.4, -8.6, -9.0, -8.8]
T500_11 = [-8.7, -8.3, -9.6, -10.9, -11.0, -8.0, -8.1, -8.4, -9.2, -9.0, -9.5, -9.8, -9.9, -9.2, -8.9, -8.9,
           -8.8, -8.4, -8.8, -8.9, -8.4, -7.6, -7.9, -7.6, -7.0, -6.8, -7.4, -7.7, -7.5, -7.2, -8.2, -9.3,
           -9.0, -8.8, -9.2, -9.6, -9.0, -8.4, -8.0, -7.6, -7.2, -6.8, -6.6, -6.8, -6.4, -6.2, -6.6, -6.8,
           -6.4, -6.0, -6.2, -6.0, -5.8, -6.0, -6.4, -6.8, -7.0, -6.6, -6.2, -6.6, -7.0, -6.8, -7.2, -7.6, -7.4]
T500_12 = [-8.8, -8.2, -9.4, -10.5, -10.4, -7.7, -7.9, -8.2, -9.0, -8.8, -9.3, -9.6, -9.7, -9.0, -8.7, -8.0,
           -6.2, -7.5, -8.5, -8.6, -8.1, -7.3, -7.6, -7.3, -6.7, -6.5, -7.1, -7.4, -7.2, -6.9, -7.9, -9.0,
           -8.7, -8.6, -9.1, -9.8, -9.4, -9.0, -9.0, -8.8, -8.6, -8.6, -9.2, -9.4, -9.6, -10.0, -11.0, -12.5,
           -14.6, -12.7, -13.0, -11.3, -11.0, -10.6, -10.2, -10.5, -10.8, -11.0, -11.2, -10.8, -10.4, -10.6, -11.0, -11.4, -11.0]
T500_13 = [-8.7, -8.2, -9.4, -10.5, -10.4, -7.7, -7.9, -8.2, -9.0, -8.8, -9.3, -9.6, -9.7, -9.0, -8.7, -8.7,
           -8.6, -8.2, -8.6, -8.7, -8.2, -7.4, -7.6, -7.2, -6.5, -6.2, -6.8, -7.2, -7.0, -6.8, -7.8, -9.0,
           -8.8, -8.6, -9.0, -9.6, -9.2, -8.8, -8.6, -8.2, -8.0, -7.8, -8.0, -7.8, -7.6, -7.8, -8.0, -8.2,
           -7.8, -7.4, -7.6, -7.2, -7.0, -6.8, -7.0, -6.8, -6.6, -6.4, -6.8, -7.0, -6.8, -6.6, -6.8, -7.2, -7.0]
T500_14 = [-8.6, -8.1, -9.3, -10.4, -10.3, -7.6, -7.9, -8.2, -9.0, -8.8, -9.3, -9.6, -9.7, -9.0, -8.7, -8.8,
           -8.8, -8.6, -9.0, -9.4, -9.0, -8.4, -8.6, -8.4, -7.8, -7.6, -8.0, -8.4, -8.2, -8.0, -8.8, -9.6,
           -9.4, -9.2, -9.6, -10.2, -10.0, -9.6, -9.8, -10.2, -10.6, -11.0, -11.2, -10.8, -10.4, -10.0, -10.2, -10.6,
           -10.4, -9.8, -9.4, -9.8, -10.2, -10.6, -10.4, -10.0, -9.8, -10.2, -10.6, -10.8, -10.4, -10.0, -10.2, -10.4, -10.2]
T500_15 = [-8.7, -8.2, -9.4, -10.5, -10.4, -7.7, -7.9, -8.2, -9.0, -8.8, -9.3, -9.6, -9.7, -9.0, -8.7, -8.7,
           -8.6, -8.2, -8.6, -8.7, -8.2, -7.4, -7.7, -7.4, -6.8, -6.6, -7.2, -7.5, -7.3, -7.0, -8.0, -9.1,
           -8.8, -8.5, -8.6, -8.3, -7.6, -6.4, -5.0, -4.8, -3.6, -3.8, -3.8, -4.3, -4.3, -4.3, -5.0, -4.6,
           -4.7, -5.2, -5.0, -5.4, -5.8, -6.2, -6.6, -6.4, -6.8, -7.0, -6.6, -6.2, -6.6, -7.0, -7.4, -7.8, -7.6]
T500_16 = [-8.8, -8.4, -9.6, -10.6, -10.5, -8.2, -8.6, -9.4, -10.6, -9.6, -9.8, -10.0, -10.2, -10.4, -11.4, -12.4,
           -10.6, -9.0, -9.0, -9.0, -8.6, -7.8, -8.0, -7.8, -7.2, -7.0, -7.6, -7.8, -7.6, -7.4, -8.4, -9.4,
           -9.2, -9.2, -9.8, -10.6, -10.4, -10.0, -10.0, -9.8, -9.6, -9.4, -9.8, -9.8, -9.6, -9.8, -10.2, -10.4,
           -10.0, -9.6, -9.6, -9.4, -9.0, -8.8, -9.2, -9.0, -8.8, -8.6, -9.0, -9.2, -9.0, -8.8, -9.2, -9.6, -9.4]
T500_17 = [-8.7, -8.3, -9.5, -10.6, -10.4, -7.7, -7.9, -8.2, -9.0, -8.8, -9.3, -9.6, -9.7, -9.0, -8.7, -8.7,
           -8.6, -8.2, -8.6, -8.7, -8.2, -7.2, -6.8, -5.8, -3.9, -4.3, -4.4, -5.5, -6.0, -6.4, -7.6, -8.8,
           -8.6, -8.4, -8.8, -9.4, -9.0, -8.6, -8.4, -8.2, -8.0, -7.8, -8.2, -8.2, -8.0, -8.2, -8.6, -8.8,
           -8.4, -8.0, -8.4, -8.6, -8.8, -9.2, -9.6, -10.0, -10.4, -10.8, -10.6, -11.0, -11.3, -11.2, -11.0, -11.4, -11.2]
T500_18 = [-8.8, -8.3, -9.5, -10.6, -10.5, -7.8, -8.0, -8.3, -9.1, -8.9, -9.4, -9.7, -9.8, -9.1, -8.8, -8.8,
           -8.7, -8.3, -8.7, -8.8, -8.3, -7.5, -7.8, -7.5, -6.9, -6.7, -7.3, -7.7, -7.6, -7.4, -8.5, -9.8,
           -10.0, -10.2, -10.6, -11.0, -10.6, -10.2, -10.0, -9.8, -9.4, -9.0, -9.4, -9.6, -9.8, -10.2, -10.8, -11.0,
           -10.6, -10.2, -10.4, -10.0, -9.6, -9.4, -9.8, -10.2, -10.6, -10.2, -9.8, -10.2, -10.8, -11.0, -10.8, -11.2, -11.0]
T500_19 = [-8.6, -8.2, -9.4, -10.4, -10.3, -7.6, -7.8, -8.1, -8.9, -8.7, -9.2, -9.5, -9.6, -8.9, -8.6, -8.6,
           -8.4, -8.0, -8.4, -8.5, -8.0, -7.2, -7.4, -7.0, -6.4, -6.2, -6.8, -7.0, -6.8, -6.6, -7.6, -8.6,
           -8.4, -8.2, -8.6, -9.0, -8.4, -7.8, -7.4, -7.0, -6.6, -6.4, -6.8, -6.6, -6.2, -6.0, -6.4, -6.6,
           -6.4, -6.2, -6.6, -7.0, -7.4, -7.2, -6.8, -6.4, -6.2, -6.6, -7.0, -6.8, -6.4, -6.8, -7.2, -7.6, -7.4]
T500_20 = [-8.7, -8.2, -9.4, -10.5, -10.4, -7.7, -7.9, -8.2, -9.0, -8.8, -9.3, -9.6, -9.7, -9.0, -8.7, -8.7,
           -8.6, -8.2, -8.6, -8.7, -8.2, -7.4, -7.7, -7.4, -6.8, -6.6, -7.2, -7.5, -7.3, -7.0, -8.0, -9.1,
           -8.8, -8.8, -9.4, -10.0, -9.6, -9.2, -9.0, -8.8, -8.6, -8.4, -8.8, -8.6, -8.4, -8.2, -8.4, -8.2,
           -7.8, -7.4, -7.2, -7.0, -6.8, -6.6, -6.4, -6.2, -6.4, -6.8, -7.2, -7.6, -8.0, -8.6, -9.4, -10.0, -10.4]
T500_21 = [-8.7, -8.2, -9.4, -10.5, -10.4, -7.7, -7.9, -8.2, -9.0, -8.8, -9.3, -9.6, -9.7, -9.0, -8.7, -8.7,
           -8.6, -8.4, -8.8, -9.0, -8.8, -8.6, -9.4, -10.0, -10.5, -9.6, -9.0, -8.6, -8.2, -7.6, -8.2, -9.2,
           -9.0, -9.0, -9.4, -10.0, -9.6, -9.2, -9.0, -8.6, -8.4, -8.2, -8.6, -8.4, -8.2, -8.4, -8.8, -9.0,
           -8.6, -8.2, -8.4, -8.2, -8.0, -7.8, -8.0, -7.8, -7.6, -7.4, -7.8, -7.8, -7.6, -7.4, -7.6, -8.2, -8.0]
T500_22 = [-8.7, -8.2, -9.4, -10.5, -10.4, -7.7, -7.9, -8.2, -9.0, -8.9, -9.4, -9.7, -9.8, -9.1, -8.8, -8.8,
           -8.8, -8.4, -8.8, -8.9, -8.4, -7.8, -8.0, -7.8, -7.2, -7.0, -7.6, -7.8, -7.6, -7.4, -8.4, -9.6,
           -9.4, -9.4, -9.8, -10.4, -10.2, -9.8, -9.6, -9.4, -9.2, -9.0, -9.2, -9.0, -8.8, -9.0, -9.4, -9.6,
           -9.2, -8.8, -9.0, -9.4, -9.8, -10.2, -10.0, -9.6, -9.4, -9.0, -8.8, -9.2, -9.6, -9.8, -9.4, -9.2, -9.0]
T500_23 = [-8.8, -8.4, -9.8, -11.2, -11.6, -8.0, -8.0, -8.3, -9.1, -8.9, -9.4, -9.7, -9.8, -9.1, -8.8, -8.8,
           -8.7, -8.3, -8.7, -8.8, -8.3, -7.5, -7.8, -7.5, -6.9, -6.7, -7.3, -7.6, -7.4, -7.1, -8.1, -9.2,
           -9.0, -9.0, -9.4, -9.8, -9.4, -9.0, -8.8, -8.4, -8.2, -8.0, -8.4, -8.2, -8.0, -8.2, -8.4, -8.6,
           -8.2, -7.8, -8.0, -7.6, -7.4, -7.2, -7.4, -7.2, -7.0, -6.8, -7.2, -7.4, -7.2, -7.0, -7.4, -8.0, -7.8]
T500_24 = [-8.7, -8.2, -9.4, -10.5, -10.4, -7.7, -7.9, -8.2, -9.0, -8.8, -9.3, -9.6, -9.7, -9.0, -8.7, -8.7,
           -8.6, -8.2, -8.6, -8.7, -8.2, -7.4, -7.7, -7.4, -6.8, -6.8, -7.4, -7.8, -7.6, -7.4, -8.4, -9.6,
           -9.4, -9.4, -9.8, -10.2, -9.8, -9.4, -9.4, -9.2, -9.0, -8.8, -9.2, -9.2, -9.0, -9.2, -9.6, -9.8,
           -9.4, -9.0, -9.2, -9.0, -8.6, -8.4, -8.6, -8.4, -8.2, -8.0, -8.4, -8.4, -8.2, -8.0, -8.4, -9.0, -8.8]
T500_25 = [-8.6, -8.1, -9.3, -10.4, -10.3, -7.6, -7.8, -8.1, -8.9, -8.7, -9.2, -9.5, -9.6, -8.9, -8.6, -8.6,
           -8.5, -8.2, -8.8, -9.4, -9.2, -8.6, -9.0, -8.8, -8.0, -7.6, -7.8, -8.0, -7.8, -7.4, -8.2, -9.2,
           -9.0, -9.0, -9.6, -10.4, -10.2, -9.8, -9.8, -9.6, -9.4, -9.2, -9.6, -9.6, -9.4, -9.6, -10.0, -10.2,
           -9.8, -9.4, -9.6, -9.8, -10.2, -10.6, -10.4, -10.0, -9.8, -9.6, -10.0, -10.2, -10.0, -9.8, -10.0, -10.4, -10.2]
T500_26 = [-8.8, -8.3, -9.5, -10.6, -10.5, -7.8, -8.0, -8.4, -9.2, -9.0, -9.5, -9.8, -9.9, -9.2, -8.9, -8.9,
           -8.8, -8.4, -8.8, -8.9, -8.4, -7.6, -7.9, -7.6, -7.0, -6.8, -7.4, -7.7, -7.5, -7.2, -8.2, -9.3,
           -9.0, -9.0, -9.4, -10.0, -9.6, -9.2, -9.0, -8.8, -8.8, -8.6, -9.0, -9.0, -8.8, -9.0, -9.4, -9.8,
           -9.4, -9.0, -9.2, -9.6, -10.0, -10.4, -10.2, -10.0, -9.8, -9.6, -10.0, -10.4, -10.2, -10.0, -10.2, -10.6, -10.4]
T500_27 = [-8.7, -8.2, -9.4, -10.5, -10.4, -7.7, -7.9, -8.2, -9.0, -8.8, -9.3, -9.6, -9.7, -9.0, -8.7, -8.6,
           -8.4, -7.8, -7.8, -7.4, -6.4, -4.2, -5.6, -6.2, -6.0, -6.2, -6.8, -7.2, -7.0, -6.8, -7.8, -8.8,
           -8.6, -8.4, -8.8, -9.4, -9.0, -8.6, -8.4, -8.0, -7.8, -7.6, -8.0, -8.0, -7.8, -7.6, -7.8, -7.6,
           -7.2, -6.8, -7.0, -6.8, -6.4, -6.2, -6.6, -6.4, -6.2, -6.0, -6.4, -6.2, -5.8, -6.0, -6.4, -6.8, -6.6]
T500_28 = [-8.7, -8.2, -9.4, -10.5, -10.4, -7.7, -7.9, -8.2, -9.0, -8.8, -9.3, -9.6, -9.7, -9.0, -8.7, -8.7,
           -8.6, -8.2, -8.6, -8.7, -8.2, -7.4, -7.7, -7.4, -6.8, -6.6, -7.2, -7.5, -7.3, -7.0, -8.0, -9.1,
           -8.8, -8.8, -9.2, -9.8, -9.6, -9.4, -9.4, -9.2, -9.0, -9.0, -9.4, -9.6, -9.6, -9.8, -10.2, -10.4,
           -10.2, -10.0, -10.4, -10.8, -11.0, -11.2, -11.4, -11.2, -11.0, -11.4, -11.8, -12.2, -12.6, -13.0, -13.6, -14.1, -14.0]
T500_29 = [-8.6, -8.1, -9.3, -10.4, -10.3, -7.6, -7.8, -8.1, -8.9, -8.7, -9.2, -9.5, -9.6, -8.9, -8.6, -8.6,
           -8.5, -8.1, -8.5, -8.6, -8.1, -7.3, -7.6, -7.3, -6.7, -6.5, -7.1, -7.4, -7.2, -6.9, -7.9, -9.0,
           -8.6, -8.4, -8.8, -9.2, -8.8, -8.4, -8.2, -7.8, -7.6, -7.4, -7.8, -7.8, -7.6, -7.8, -8.2, -8.4,
           -8.0, -7.6, -7.8, -7.6, -7.4, -7.6, -8.0, -8.4, -8.6, -8.4, -8.2, -8.6, -9.0, -8.8, -8.6, -9.0, -9.2]
T500_30 = [-8.7, -8.2, -9.4, -10.5, -10.4, -7.7, -7.9, -8.2, -9.0, -8.8, -9.3, -9.6, -9.7, -9.0, -8.7, -8.7,
           -8.6, -8.2, -8.6, -8.7, -8.2, -7.4, -7.7, -7.4, -6.8, -6.6, -7.2, -7.5, -7.3, -7.0, -8.0, -9.1,
           -8.8, -8.8, -9.2, -9.6, -9.2, -8.8, -8.6, -8.2, -8.0, -7.8, -8.2, -8.0, -7.6, -7.2, -7.0, -6.8,
           -6.6, -6.4, -6.6, -6.4, -6.2, -6.0, -6.2, -6.0, -5.8, -5.6, -5.8, -6.0, -5.8, -5.6, -5.8, -6.0, -5.8]

# ─── précipitations (mm / 6h) ─────────────────────────────────────────────────
RR_MEAN = [0.8, 0.7, 0.5, 0.1, 0.7, 0.6, 0.1, 0, 0, 0, 0, 0, 0,
           0, 0, 0, 0, 0, 0, 0, 0, 0, 0, 0, 0, 0,
           0, 0, 0, 0, 0, 0, 0, 0, 0, 0, 0, 0, 0,
           0, 0, 0, 0, 0, 0.1, 0.7, 0.3, 0.2, 0.1, 0.2, 0.4, 0.6,
           0.3, 0.5, 0.2, 0.1, 0.1, 0.3, 0.2, 0, 0.1, 0.1, 0.1, 0.3, 0.1]
RR_CTRL = [1.0, 1.2, 0.8, 0.3, 1.2, 0.9, 0.3, 0, 0, 0, 0, 0, 0,
           0, 0, 0, 0, 0, 0, 0, 0, 0, 0, 0, 0, 0,
           0, 0, 0, 0, 0, 0, 0, 0, 0, 0, 0, 0, 0,
           0, 0, 0, 0, 0, 0, 0, 0, 0, 0, 0, 0, 0,
           0, 0, 0, 0, 0, 0, 0, 0, 0, 0, 0, 0, 0]
RR_GFS = [0.5, 0.6, 0.4, 0.2, 2.3, 1.4, 0.4, 0, 0, 0, 0, 0, 0,
          0, 0, 0, 0, 0, 0, 0, 0, 0, 0, 0, 0, 0,
          0, 0, 0, 0, 0, 0, 0, 0, 0, 0, 0, 0, 0,
          0, 0, 0, 0, 0, 0, 0, 0, 0, 0, 0, 0, 0,
          0, 0, 0, 0, 0, 0, 0, 0, 0, 0, 0, 0, 0]

RR_01 = [0.4, 0.6, 0.5, 0.2, 1.2, 0.8, 0.1, 0, 0, 0, 0, 0, 0,
         0, 0, 0, 0, 0, 0, 0, 0, 0, 0, 0, 0, 0,
         0, 0, 0, 0, 0, 0, 0, 0, 0, 0, 0, 0, 0,
         0, 0, 0, 0, 0, 0, 0.3, 0, 0, 0, 0, 0, 0,
         0, 0, 0, 0, 0, 0, 0, 0, 0, 0, 0, 0, 0]
RR_02 = [0.3, 0.5, 0.3, 0, 0.8, 0.5, 0, 0, 0, 0, 0, 0, 0,
         0, 0, 0, 0, 0, 0, 0.5, 0.2, 0, 0, 0, 0, 0,
         0, 0, 0, 0, 0, 0, 0, 0, 0, 0, 0, 0, 0,
         0, 0, 0, 0, 0, 0, 0, 0, 0, 0, 0, 0, 0,
         0, 0, 0, 0, 0, 0, 0, 0, 0, 0, 0, 0, 0]
RR_03 = [0.5, 0.8, 0.4, 0.1, 1.0, 0.6, 0.2, 0, 0, 0.4, 1.5, 0.4, 0,
         0, 0, 0, 0, 0, 0, 0, 0, 0, 0, 0, 0, 0,
         0, 0, 0, 0, 0, 0, 0, 0, 0, 0, 0, 0, 0,
         0, 0, 0, 0, 0, 0, 0, 0, 0, 0, 0, 0, 0,
         0, 0, 0, 0, 0, 0, 0, 0, 0, 0, 0, 0, 0]
RR_04 = [0.6, 0.4, 0.6, 0, 1.5, 1.0, 0.3, 0, 0, 0, 0, 0, 0,
         0, 0, 0, 0, 0, 0, 0, 0, 0, 0, 0, 0, 0,
         0, 0, 0, 0, 0, 0, 0, 0, 0, 0, 0, 0, 0,
         0, 0, 0, 0, 0, 0, 0, 0, 0, 0, 0, 0.3, 0.4,
         0, 0, 0, 0, 0, 0, 0, 0, 0, 0, 0, 0, 0]
RR_05 = [1.5, 1.5, 0.6, 0.3, 3.4, 2.0, 0.4, 0, 0, 0, 0, 0, 0,
         0, 0, 0, 0, 0, 0, 0, 0, 0, 0, 0, 0, 0,
         0, 0, 0, 0, 0, 0, 0, 0, 0, 0, 0, 0, 0,
         0, 0, 0, 0, 0, 0, 0, 0, 0, 0, 0, 0, 0,
         0, 0, 0, 0, 1.0, 5.8, 1.7, 0.3, 0, 0, 0, 0, 0]
RR_06 = [0.4, 0.6, 0.5, 0, 1.0, 0.6, 0, 0, 0, 0, 0, 0, 0,
         0, 0, 0, 0, 0, 0, 0, 0, 0, 0, 0, 0, 0,
         0, 0, 0, 0, 0, 0, 0, 0, 0, 0, 0, 0, 0,
         0, 0, 0, 0, 0, 0, 0, 0, 0, 0.2, 0, 0, 0,
         0, 0, 0, 0, 0, 0, 0, 0, 0, 0, 0, 0, 0]
RR_07 = [0.5, 0.7, 0.4, 0, 1.4, 1.2, 0.3, 0, 0, 0, 0, 0, 0,
         0, 0, 0, 0, 0, 0, 0, 0, 0, 0, 0, 0, 0,
         0, 0, 0, 0, 0, 0, 0, 0, 0, 0, 0, 0, 0,
         0, 0, 0, 0, 0, 0, 0, 0.4, 0.3, 0, 0, 0, 0,
         0, 0, 0, 0, 0, 0, 0, 0, 0, 0, 0, 0, 0]
RR_08 = [0.3, 0.4, 0.3, 0, 0.9, 0.5, 0, 0, 0, 0, 0, 0, 0,
         0, 0, 0, 0, 0, 0, 0, 0, 0, 0, 0, 0, 0,
         0, 0, 0, 0, 0, 0, 0, 0, 0, 0, 0, 0, 0,
         0, 0, 0, 0, 0, 0, 0, 0, 0, 0.6, 1.0, 5.8, 13.5,
         2.1, 7.0, 0.8, 0, 0, 0, 0, 0, 0, 0, 0, 0, 0]
RR_09 = [1.8, 1.0, 0.5, 0.3, 4.6, 2.2, 0.4, 0, 0, 0, 0, 0, 0,
         0, 0, 0, 0, 0, 0, 0, 0, 0, 0, 0, 0, 0,
         0, 0, 0, 0, 0, 0, 0, 0, 0, 0, 0, 0, 0,
         0, 0, 0.5, 0.4, 0.5, 0.5, 1.6, 1.0, 0.6, 0.8, 1.5, 0.3, 0,
         0, 0, 0, 0, 0, 0, 0, 0, 0, 0, 0, 0, 0]
RR_10 = [0.6, 0.5, 0.4, 0, 1.8, 2.4, 0.6, 0, 0, 0, 0, 0, 0,
         0, 0, 0, 0, 0, 0, 0, 0, 0, 0, 0, 0, 0,
         0, 0, 0, 0, 0, 0, 0, 0, 0, 0, 0, 0, 0,
         0, 0, 0, 0, 0, 0.8, 2.9, 0.6, 0, 0, 0, 0, 0,
         0, 0, 0, 0, 0, 0, 0, 0, 0, 0, 0, 0, 0]
RR_11 = [0.5, 0.6, 0.3, 0, 1.6, 1.4, 0.4, 0, 0, 0, 0, 0, 0,
         0, 0, 0, 0, 0, 0, 0, 0, 0, 0, 0, 0, 0,
         0, 0, 0, 0, 0, 0, 0, 0, 0, 0, 0, 0, 0,
         0, 0, 0, 0, 0, 0, 0, 0, 0, 0, 0, 0, 0,
         0, 0, 0, 0, 0, 0, 0, 0.3, 0.4, 0.4, 0.3, 0.8, 0.2]
RR_12 = [0.4, 0.3, 0.2, 0, 0.8, 0.6, 0, 0, 0, 0, 0, 0, 0,
         0, 0, 0, 0, 0, 0, 0, 0, 0, 0, 0, 0, 0,
         0.3, 0.3, 0, 0, 0, 0, 0, 0, 0, 0, 0, 0, 0,
         0, 0, 0, 0, 0, 0.6, 4.1, 0.8, 0, 0, 0, 0, 0,
         0, 0, 0, 0, 0, 0, 0, 0, 0, 0, 0, 0, 0]
RR_13 = [0.8, 0.6, 0.4, 0, 2.0, 1.8, 0.5, 0, 0, 0, 0, 0, 0,
         0, 0, 0, 0, 0, 0, 0, 0, 0, 0, 0, 0, 0,
         0, 0, 0, 0, 0, 0, 0, 0, 0, 0, 0, 0, 0,
         0, 0, 0, 0, 0, 0, 0, 0, 0, 0, 0, 0, 0,
         0, 0, 0, 0, 0, 0, 0, 0, 0, 0, 0, 0, 0]
RR_14 = [0.3, 0.4, 0.3, 0, 0.9, 0.7, 0, 0, 0, 0, 0, 0, 0,
         0, 0, 0, 0, 0, 0.3, 0, 0, 0, 0, 0, 0, 0,
         0, 0, 0, 0, 0, 0, 0, 0, 0, 0, 0, 0, 0,
         0, 0, 0, 0, 0, 0, 0, 0, 0, 0, 0, 0, 0,
         0, 1.0, 3.0, 0.5, 0, 0, 0, 0, 0, 0, 0, 0, 0]
RR_15 = [0.6, 0.8, 0.5, 0, 1.2, 0.9, 0.2, 0, 0, 0, 0, 0, 0,
         0, 0, 0, 0, 0, 0, 0, 0, 0, 0, 0, 0, 0,
         0, 0, 0, 0, 0, 0, 0, 0, 0, 0, 0, 0, 0,
         0, 0, 0, 0, 0, 0, 0, 0, 0, 0, 0, 0, 0,
         0.2, 0, 0, 0, 0, 0, 0, 0, 0, 0, 0, 0, 0]
RR_16 = [0.5, 0.4, 0.3, 0, 1.0, 0.8, 0, 0, 0, 0, 1.3, 0, 0,
         0, 0, 0, 0, 0, 0, 0, 0, 0, 0, 0, 0, 0,
         0, 0, 0, 0, 0, 0, 0, 0, 0, 0, 0, 0, 0,
         0, 0, 0, 0, 0, 0.4, 8.0, 3.4, 2.2, 0.3, 0, 0, 0,
         0, 0, 0, 0, 0, 0, 0, 0, 0, 0, 0, 0, 0]
RR_17 = [0.7, 1.3, 0.5, 0, 1.1, 0.8, 0, 0, 0, 0, 0, 1.3, 0.3,
         0, 0, 0, 0, 0, 0, 0, 0, 0, 0, 0, 0, 0,
         0, 0, 0, 0, 0, 0, 0, 0, 0, 0, 0, 0, 0,
         0, 0, 0, 0, 0, 0, 0, 0, 0, 0, 0, 0, 0,
         0, 0, 0, 0, 0, 0, 0, 0, 0, 0, 0, 0, 0]
RR_18 = [0.4, 0.5, 0.2, 0, 0.8, 0.6, 0, 0, 0, 0, 0, 0, 0,
         0, 0, 0, 0, 0, 0, 0, 0, 0, 0, 0, 0, 0,
         0, 0, 0, 0, 0, 0, 0, 0, 0, 0, 0, 0, 0,
         0, 0, 0, 0, 0, 0, 0, 0, 0, 0, 0.3, 0.4, 0,
         0, 0, 0, 0, 0, 0, 0, 0, 0, 0, 0, 0, 0]
RR_19 = [1.0, 1.2, 0.5, 0, 2.6, 1.8, 0.4, 0, 0, 0, 0, 0, 0,
         0, 0, 0, 0, 0, 0, 0, 0, 0, 0, 0, 0, 0,
         0, 0, 0, 0, 0, 0, 0, 0, 0, 0, 0, 0, 0,
         0, 0, 0, 0, 0, 0, 0, 0, 0, 0, 0, 0, 0,
         0, 0, 0, 0, 0, 0, 0, 0, 0, 0, 0, 0, 0]
RR_20 = [0.3, 0.4, 0.2, 0, 0.7, 0.5, 0, 0, 0, 0, 0, 0, 0,
         0, 0, 0, 0, 0, 0, 0, 0, 0, 0, 0, 0, 0,
         0, 0, 0, 0, 0, 0, 0, 0, 0, 0, 0, 0, 0,
         0, 0, 0, 0, 0, 0, 0, 0, 0, 0, 0, 0, 0,
         0, 0, 0, 0, 0, 0, 0, 0, 0, 0, 0, 0, 0]
RR_21 = [0.5, 0.6, 0.4, 0, 1.2, 0.8, 0.1, 0, 0, 0, 0.6, 0, 0,
         0, 0, 0.8, 0.8, 0.4, 0, 0, 0, 0, 0, 0, 0, 0,
         0, 0, 0, 0, 0, 0, 0, 0, 0, 0, 0, 0, 0,
         0, 0, 0, 0, 0, 0, 0, 0, 0, 0, 0, 0, 0,
         0, 0, 0, 0, 0, 0, 0, 0, 0, 0, 0, 0, 0]
RR_22 = [0.6, 0.8, 0.5, 0, 1.5, 2.6, 0.5, 0, 0, 0, 0, 0, 0,
         0, 0, 0, 0, 0, 0, 0, 0, 0, 0, 0, 0, 0,
         0, 0, 0, 0, 0, 0, 0, 0, 0, 0, 0, 0, 0,
         0, 0, 0, 0, 0, 0, 0, 0, 0, 0, 0, 0, 0,
         0, 0, 0, 0, 0, 0, 0, 0, 0, 0, 0, 0, 0]
RR_23 = [1.6, 1.5, 0.6, 0, 2.8, 1.6, 0.3, 0, 0, 0, 0, 0, 0,
         0, 0, 0, 0, 0, 0, 0, 0, 0, 0, 0, 0, 0,
         0, 0, 0, 0, 0, 0, 0, 0, 0, 0, 0, 0, 0,
         0, 0, 0, 0, 0, 0, 0, 0, 0, 0, 0, 0, 0,
         0.5, 0.4, 0.5, 0, 0, 0, 0, 0, 0, 0, 0, 0, 0]
RR_24 = [0.4, 0.5, 0.3, 0, 0.8, 0.6, 0, 0, 0, 0, 0, 0, 0,
         0, 0, 0, 0, 0, 0, 0, 0, 0, 0, 0, 0, 0,
         0, 0, 0, 0, 0, 0, 0, 0, 0, 0.3, 4.2, 0.2, 0,
         0, 0, 0, 0, 0, 0, 0, 0, 0, 0, 0, 0, 0,
         0, 0, 0, 0, 0, 0, 0, 0, 0, 0, 0, 0, 0]
RR_25 = [0.5, 0.6, 0.4, 0, 1.3, 1.0, 0.2, 0, 0, 0, 0, 0, 0,
         0, 0, 0, 0, 0, 0, 0, 0, 0, 0, 0, 0, 0,
         0, 0, 0, 0, 0, 0, 0, 0, 0, 0, 0, 0, 0,
         0, 0, 0, 0, 0, 0, 0, 0, 0, 0, 0, 0, 0,
         0, 0, 0, 0, 0, 0, 0, 0, 0, 0, 0, 0, 0]
RR_26 = [0.4, 0.5, 0.3, 0, 1.0, 0.7, 0, 0, 0, 0, 0, 0, 0,
         0, 0, 0, 0, 0, 0, 0, 0, 0, 0, 0, 0, 0,
         0, 0, 0, 0, 0, 0, 0, 0, 0, 0, 0, 0, 0,
         0, 0, 0, 0, 0, 0, 0, 0, 0, 0, 0, 0, 0,
         0, 0, 0, 0, 0, 0, 0, 0, 0, 0, 0.5, 6.5, 0.4]
RR_27 = [0.3, 0.4, 0.2, 0, 0.8, 0.6, 0, 0, 0, 0, 0, 0, 0,
         0, 0, 0, 0, 0, 0, 0, 0, 0, 0, 0, 0, 0,
         0, 0, 0, 0, 0, 0, 0, 0, 0, 0, 0, 0.3, 1.5,
         0.2, 0, 0, 0, 0, 0, 0, 0, 0, 0, 0, 0, 0,
         0, 0, 0, 0, 0, 0, 0, 0, 0, 0, 0, 0, 0]
RR_28 = [0.5, 0.6, 0.4, 0, 1.2, 0.8, 0, 0, 0, 0, 0, 0, 0,
         0, 0, 0, 0, 0, 0, 0, 0, 0, 0, 0, 0, 0,
         0, 0, 0, 0, 0, 0, 0, 0, 0, 0, 0, 0, 0,
         0, 0, 0, 0, 0, 0, 0, 0, 0, 0, 0, 0.3, 0,
         0, 0, 0, 0, 0, 0, 0, 0, 0, 0, 0, 0, 0]
RR_29 = [0.6, 0.7, 0.4, 0, 1.4, 1.0, 0.3, 0, 0, 0, 0, 0, 0,
         0, 0, 0, 0, 0, 0, 0, 0, 0, 0, 0, 0, 0,
         0, 0, 0, 0, 0, 0, 0, 0, 0, 0, 0, 0, 0,
         0, 0, 0, 0, 0, 0, 0, 0, 0, 0, 0, 0, 0,
         0.5, 0, 0, 0, 0, 0, 0, 0, 0.4, 0.5, 0.4, 0, 0]
RR_30 = [0.7, 0.9, 0.5, 0.3, 2.4, 3.8, 1.2, 0.2, 0, 0, 0, 0, 0,
         0, 0, 0, 0, 0, 0, 0, 0, 0, 0, 0, 0, 0,
         0, 0, 0, 0, 0, 0, 0, 0, 0, 0, 0, 0, 0,
         0, 0, 0, 0, 0, 0, 0, 0, 0, 0, 0, 0, 0,
         0, 0, 0, 0, 0, 0, 0, 0, 0, 0, 0, 0, 0]

T850 = [T850_01, T850_02, T850_03, T850_04, T850_05, T850_06, T850_07, T850_08, T850_09, T850_10,
        T850_11, T850_12, T850_13, T850_14, T850_15, T850_16, T850_17, T850_18, T850_19, T850_20,
        T850_21, T850_22, T850_23, T850_24, T850_25, T850_26, T850_27, T850_28, T850_29, T850_30]
T500 = [T500_01, T500_02, T500_03, T500_04, T500_05, T500_06, T500_07, T500_08, T500_09, T500_10,
        T500_11, T500_12, T500_13, T500_14, T500_15, T500_16, T500_17, T500_18, T500_19, T500_20,
        T500_21, T500_22, T500_23, T500_24, T500_25, T500_26, T500_27, T500_28, T500_29, T500_30]
RR = [RR_01, RR_02, RR_03, RR_04, RR_05, RR_06, RR_07, RR_08, RR_09, RR_10,
      RR_11, RR_12, RR_13, RR_14, RR_15, RR_16, RR_17, RR_18, RR_19, RR_20,
      RR_21, RR_22, RR_23, RR_24, RR_25, RR_26, RR_27, RR_28, RR_29, RR_30]

for name, group in (("T850", T850), ("T500", T500), ("RR", RR)):
    for i, s in enumerate(group, start=1):
        assert len(s) == len(HOURS), f"{name}_{i:02d}: {len(s)}"

# ─── géométrie (px de la page 740x700) ────────────────────────────────────────
W, H = 740, 700
ML, MR, MT, MB = 50, 50, 0, 100
Y_TOP, Y_BOT = 32.96, -52.76
MONO = "DejaVu Sans Mono"
PLOT_W = W - ML - MR
PLOT_H = H - MT - MB


def px(x):
    return (x - ML) / PLOT_W


def py(y):
    return (H - MB - y) / PLOT_H


def thin(y, color, axis="y"):
    return go.Scatter(
        x=HOURS, y=y, yaxis=axis, mode="lines+markers",
        line=dict(color=color, width=1),
        marker=dict(symbol="cross-thin", size=4, line=dict(width=1, color=color)),
        hoverinfo="skip", showlegend=False,
    )


def thick(y, color, width, axis="y"):
    return go.Scatter(x=HOURS, y=y, yaxis=axis, mode="lines",
                      line=dict(color=color, width=width),
                      hoverinfo="skip", showlegend=False)


def text(x, y, s, size=10, anchor="left", **kw):
    return dict(x=px(x), y=py(y), xref="paper", yref="paper", text=s, showarrow=False,
                xanchor=anchor, yanchor="middle",
                font=dict(family=MONO, size=size, color="black"), **kw)


fig = go.Figure()

for i in range(30):
    fig.add_trace(thin(T850[i], COLORS[i]))
    fig.add_trace(thin(T500[i], COLORS[i]))
    fig.add_trace(thin(RR[i], COLORS[i], "y2"))

for series, axis in ((GFS_850, "y"), (GFS_500, "y"), (RR_GFS, "y2")):
    fig.add_trace(thick(series, "#000000", 3.5, axis))
for series, axis in ((CTRL_850, "y"), (CTRL_500, "y"), (RR_CTRL, "y2")):
    fig.add_trace(thick(series, "#0000FF", 4, axis))
for series, axis in ((MEAN_850, "y"), (MEAN_500, "y"), (RR_MEAN, "y2")):
    fig.add_trace(thick(series, "#FF0000", 5, axis))

# ─── grille horizontale ───────────────────────────────────────────────────────
shapes = []
for v in Y_TICKS:
    if v == 0:
        style = dict(color="#A0A0A0", width=3)
    elif v % 10 == 0:
        style = dict(color="#C0C0C0", width=3)
    else:
        style = dict(color="#C0C0C0", width=2)
    shapes.append(dict(type="line", xref="paper", yref="y", x0=0, x1=1, y0=v, y1=v,
                       line=style, layer="below"))

# légende
shapes.append(dict(type="line", xref="paper", yref="paper", x0=px(35), x1=px(66),
                   y0=py(637), y1=py(637), line=dict(color="#FF0000", width=5)))
shapes.append(dict(type="line", xref="paper", yref="paper", x0=px(226), x1=px(261),
                   y0=py(637.5), y1=py(637.5), line=dict(color="#0000FF", width=4)))
shapes.append(dict(type="line", xref="paper", yref="paper", x0=px(226), x1=px(261),
                   y0=py(647.5), y1=py(647.5), line=dict(color="#000000", width=4)))
for i, c in enumerate(COLORS):
    x0 = 400 + 11 * i
    shapes.append(dict(type="rect", xref="paper", yref="paper", x0=px(x0), x1=px(x0 + 10),
                       y0=py(656), y1=py(650), fillcolor=c, line=dict(width=0)))
# cadre du titre
shapes.append(dict(type="rect", xref="paper", yref="paper", x0=px(20), x1=px(440),
                   y0=py(699), y1=py(667.5), line=dict(color="black", width=1.5)))

# ─── textes ───────────────────────────────────────────────────────────────────
ann = []
for v in Y_TICKS:
    ann.append(dict(x=px(20), y=v, xref="paper", yref="y", text=str(v), showarrow=False,
                    xanchor="left", yanchor="middle", yshift=-2,
                    font=dict(family=MONO, size=10, color="black")))
    ann.append(dict(x=px(709), y=v, xref="paper", yref="y", text=str(v + PRECIP_OFFSET),
                    showarrow=False, xanchor="left", yanchor="middle", yshift=-2,
                    font=dict(family=MONO, size=10, color="black")))
for h, lab in zip(DAY_TICKS, DAY_LABELS):
    ann.append(dict(x=h, y=py(601), xref="x", yref="paper", text=lab, showarrow=False,
                    textangle=-90, xanchor="center", yanchor="top", xshift=6,
                    font=dict(family=MONO, size=9.5, color="black")))
for i in range(30):
    ann.append(dict(x=px(405 + 11 * i), y=py(644.5), xref="paper", yref="paper",
                    text=f"<b>{i + 1:02d}</b>", showarrow=False, xanchor="center",
                    yanchor="middle", font=dict(family=MONO, size=7.5, color="black")))

ann += [
    text(60, 43, "Temp. 850hPa"),
    text(60, 269, "Temp. 500hPa"),
    text(60, 506, "Précipitations"),
    text(20, 607, "(°c)"),
    text(10, 625, "Alt. 165m"),
    text(709, 607, "(mm)"),
    text(74, 637, "Moyenne des scénarios"),
    text(264, 637, "Run de contrôle"),
    text(264, 648, "Run GFS"),
    text(74, 659, "Risque neige"),
    dict(x=px(61), y=py(658), xref="paper", yref="paper", text="❄", showarrow=False,
         xanchor="center", yanchor="middle", font=dict(family="DejaVu Sans", size=12, color="#7EC4EE")),
    text(339, 653, "30 Perts."),
    text(29, 677, "<b>Diagramme des ensembles GEFS sur 384h : 39.4N 0.5W</b>", size=11.4),
    text(29, 692, "Températures 850hPa et 500hPa (°C) , précipitations (mm)"),
    text(448, 676, "Ensemble GEFS du 23/08/2026 - 12Z"),
    text(448, 692, "<b>Copyright 2026 Meteociel.fr</b>", size=11.5),
]

fig.update_layout(
    width=W, height=H,
    margin=dict(l=ML, r=MR, t=MT, b=MB, pad=0),
    paper_bgcolor="white", plot_bgcolor="white",
    showlegend=False,
    xaxis=dict(range=[0, 384], tickvals=DAY_TICKS, showticklabels=False, ticks="",
               showgrid=True, gridcolor="#C0C0C0", gridwidth=2, zeroline=False,
               showline=True, linecolor="black", linewidth=1),
    yaxis=dict(range=[Y_BOT, Y_TOP], showgrid=False, zeroline=False, showticklabels=False,
               ticks="", showline=True, linecolor="black", linewidth=1.5),
    yaxis2=dict(range=[Y_BOT + PRECIP_OFFSET, Y_TOP + PRECIP_OFFSET], overlaying="y",
                side="right", showgrid=False, zeroline=False, showticklabels=False,
                ticks="", showline=True, linecolor="black", linewidth=1.5),
    shapes=shapes,
    annotations=ann,
)

# la page html a une marge de 8px par défaut : on la retire pour caler la figure en (0, 0)
fig.write_html("out.html", config={"displayModeBar": False},
               post_script="document.body.style.margin='0';document.body.style.overflow='hidden';")
